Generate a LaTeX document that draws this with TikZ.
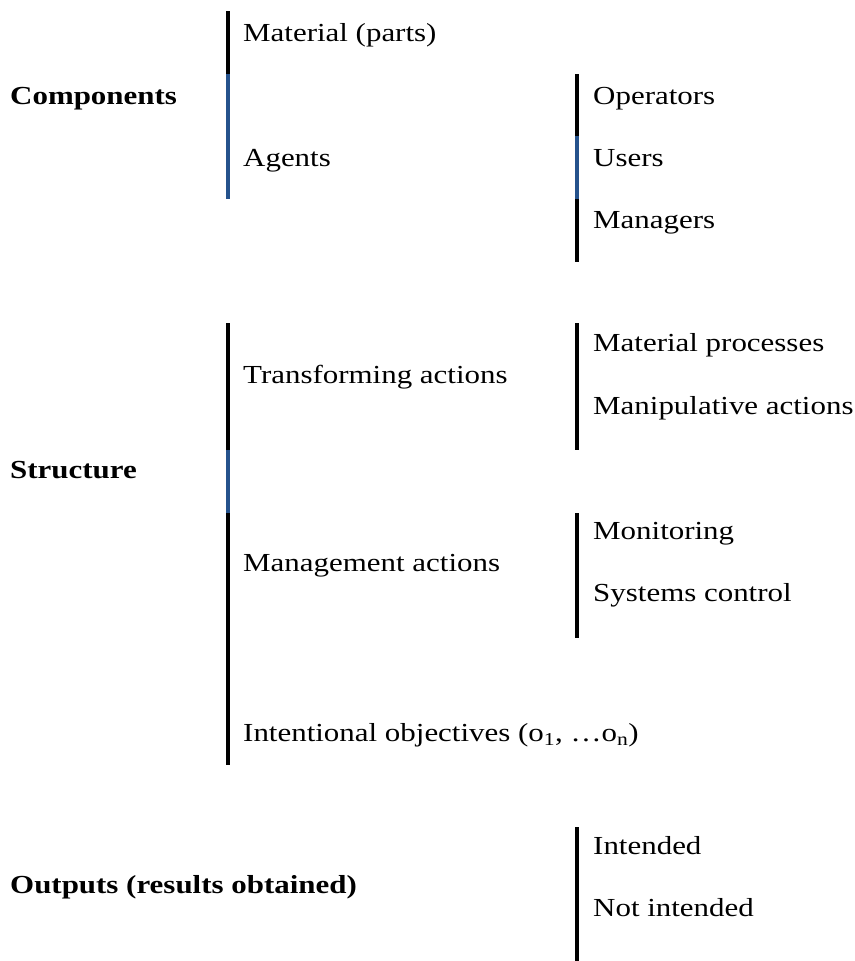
\documentclass[tikz,border=0pt]{standalone}
\usepackage{fontspec}
\setmainfont{Liberation Serif}[FakeStretch=1.19]
\usetikzlibrary{positioning}
\definecolor{barblue}{HTML}{25528C}
\tikzset{
    item/.style={anchor=west, inner sep=0pt, font=\fontsize{26}{31}\selectfont,
        text height=0.7em, text depth=0.2em, yshift=-6pt},
    head/.style={item, font=\fontsize{26}{31}\selectfont\bfseries},
    bar/.style={line width=4pt, black},
    barhi/.style={line width=4pt, barblue},
}
\begin{document}
\begin{tikzpicture}[x=1pt, y=-1pt]
    \useasboundingbox (0,0) rectangle (854,961);

    % ---- Components ----
    \node[head] (comp) at (10,96) {Components};
    \node[item] (mat) at (243,33) {Material (parts)};
    \node[item] (agents) at (243,158) {Agents};
    \node[item] (oper) at (593,96) {Operators};
    \node[item] (users) at (593,158) {Users};
    \node[item] (mgrs) at (593,220) {Managers};

    \coordinate (c1) at (228,11);
    \coordinate (c2) at (228,74);
    \coordinate (c3) at (228,199);
    \draw[bar] (c1) -- (c2);
    \draw[barhi] (c2) -- (c3);

    \coordinate (a1) at (577,74);
    \coordinate (a2) at (577,136);
    \coordinate (a3) at (577,199);
    \coordinate (a4) at (577,262);
    \draw[bar] (a1) -- (a2);
    \draw[barhi] (a2) -- (a3);
    \draw[bar] (a3) -- (a4);

    % ---- Structure ----
    \node[head] (struct) at (10,470) {Structure};
    \node[item] (trans) at (243,375) {Transforming actions};
    \node[item] (manage) at (243,563) {Management actions};
    \node[item] (intent) at (243,733) {Intentional objectives (o\textsubscript{1}, …o\textsubscript{n})};
    \node[item] (matproc) at (593,343) {Material processes};
    \node[item] (manip) at (593,406) {Manipulative actions};
    \node[item] (monit) at (593,531) {Monitoring};
    \node[item] (sysctl) at (593,593) {Systems control};

    \coordinate (s1) at (228,323);
    \coordinate (s2) at (228,450);
    \coordinate (s3) at (228,513);
    \coordinate (s4) at (228,765);
    \draw[bar] (s1) -- (s2);
    \draw[barhi] (s2) -- (s3);
    \draw[bar] (s3) -- (s4);

    \coordinate (t1) at (577,323);
    \coordinate (t2) at (577,450);
    \draw[bar] (t1) -- (t2);
    \coordinate (m1) at (577,513);
    \coordinate (m2) at (577,638);
    \draw[bar] (m1) -- (m2);

    % ---- Outputs ----
    \node[head] (outs) at (10,885) {Outputs (results obtained)};
    \node[item] (intd) at (593,846) {Intended};
    \node[item] (notintd) at (593,908) {Not intended};

    \coordinate (o1) at (577,827);
    \coordinate (o2) at (577,961);
    \draw[bar] (o1) -- (o2);
\end{tikzpicture}
\end{document}
